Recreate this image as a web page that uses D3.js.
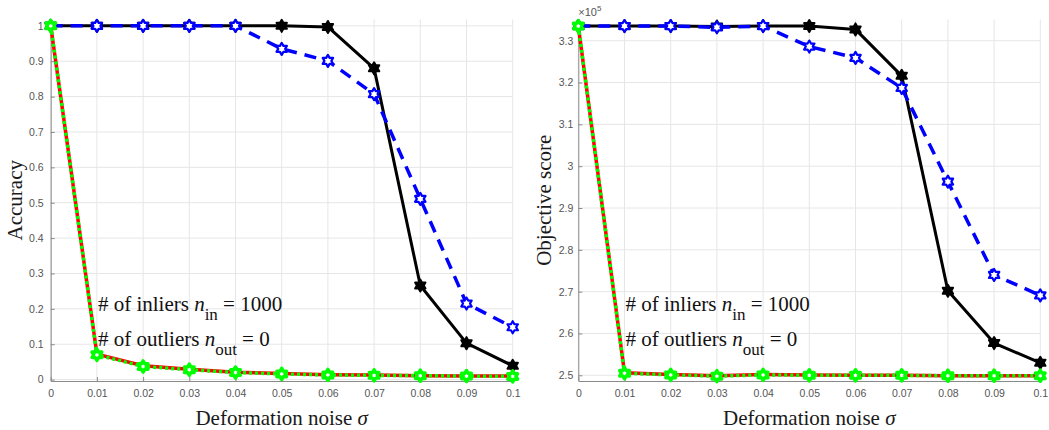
<!DOCTYPE html>
<html>
<head>
<meta charset="utf-8">
<script src="https://cdn.jsdelivr.net/npm/d3@7"></script>
<style>
  html, body { margin: 0; padding: 0; background: #fff; }
  svg { display: block; }
</style>
</head>
<body>
<svg id="chart" width="1049" height="430"></svg>
<script>
// Deformation noise levels (x axis)
const sigma = [0, 0.01, 0.02, 0.03, 0.04, 0.05, 0.06, 0.07, 0.08, 0.09, 0.1];
const xTicks = [0, 0.01, 0.02, 0.03, 0.04, 0.05, 0.06, 0.07, 0.08, 0.09, 0.1];

// Accuracy per method
const accBlack = [1, 1, 1, 1, 1, 1, 0.997, 0.880, 0.266, 0.103, 0.039];
const accBlue  = [1, 1, 1, 1, 1, 0.935, 0.901, 0.807, 0.511, 0.215, 0.148];
const accRed   = [1, 0.072, 0.039, 0.029, 0.021, 0.017, 0.014, 0.013, 0.011, 0.010, 0.010];
const accGreen = [1, 0.070, 0.037, 0.028, 0.020, 0.016, 0.013, 0.012, 0.011, 0.010, 0.009];
const accTicks = [0, 0.1, 0.2, 0.3, 0.4, 0.5, 0.6, 0.7, 0.8, 0.9, 1];

// Objective score per method (x 1e5)
const objBlack = [3.335, 3.335, 3.335, 3.334, 3.335, 3.335, 3.327, 3.216, 2.702, 2.577, 2.530];
const objBlue  = [3.335, 3.335, 3.335, 3.332, 3.335, 3.286, 3.259, 3.187, 2.963, 2.740, 2.691];
const objRed   = [3.335, 2.506, 2.502, 2.499, 2.502, 2.501, 2.500, 2.500, 2.499, 2.499, 2.499];
const objGreen = [3.335, 2.505, 2.501, 2.498, 2.501, 2.500, 2.500, 2.500, 2.499, 2.499, 2.499];
const objTicks = [2.5, 2.6, 2.7, 2.8, 2.9, 3, 3.1, 3.2, 3.3];

const svg = d3.select("#chart");
const SERIF = "Liberation Serif";
const SANS = "Liberation Sans";

// Six-pointed star outline centred on the origin
function hexagram(R) {
  const r = R / Math.sqrt(3);
  const pts = [];
  for (let i = 0; i < 12; i++) {
    const a = -Math.PI / 2 + i * Math.PI / 6;
    const rad = i % 2 === 0 ? R : r;
    pts.push([rad * Math.cos(a), rad * Math.sin(a)]);
  }
  return "M" + pts.map(p => p[0].toFixed(2) + "," + p[1].toFixed(2)).join("L") + "Z";
}

// Append a tspan carrying its own font settings
function span(t, str, size, italic) {
  const s = t.append("tspan").attr("font-family", SERIF).attr("font-size", size).text(str);
  if (italic) s.attr("font-style", "italic");
  return s;
}

function panel(opts) {
  const g = svg.append("g");
  const x = d3.scaleLinear().domain([0, 0.1]).range([opts.left, opts.right]);
  const y = d3.scaleLinear().domain(opts.yDomain).range([opts.bottom, opts.top]);

  // grid
  g.append("g").selectAll("line").data(xTicks).join("line")
    .attr("x1", d => x(d)).attr("x2", d => x(d))
    .attr("y1", opts.top).attr("y2", opts.bottom)
    .attr("stroke", "#e6e6e6").attr("stroke-width", 1);
  g.append("g").selectAll("line").data(opts.yTicks).join("line")
    .attr("x1", opts.left).attr("x2", opts.right)
    .attr("y1", d => y(d)).attr("y2", d => y(d))
    .attr("stroke", "#e6e6e6").attr("stroke-width", 1);

  // axes
  const xAxis = d3.axisBottom(x).tickValues(xTicks).tickSizeInner(-4).tickSizeOuter(0)
    .tickPadding(9).tickFormat(d => d3.format("~g")(d));
  const yAxis = d3.axisLeft(y).tickValues(opts.yTicks).tickSizeInner(-4).tickSizeOuter(0)
    .tickPadding(opts.yPad).tickFormat(d => d3.format("~g")(d));
  const gx = g.append("g").attr("transform", `translate(0,${opts.bottom})`).call(xAxis);
  const gy = g.append("g").attr("transform", `translate(${opts.left},0)`).call(yAxis);
  [gx, gy].forEach(a => {
    a.attr("font-family", SANS).attr("font-size", 10.5);
    a.select(".domain").attr("stroke", "#8a8a8a").attr("stroke-width", 1);
    a.selectAll(".tick line").attr("stroke", "#8a8a8a");
    a.selectAll(".tick text").attr("fill", "#555");
  });

  // series
  const line = vals => d3.line().x((d, i) => x(sigma[i])).y(d => y(d))(vals);
  const series = [
    { v: opts.black, color: "#000000", w: 3, dash: null, mfill: "#000000", mw: 2, r: 6 },
    { v: opts.blue,  color: "#0000ff", w: 3.5, dash: "12,8", mfill: "#ffffff", mw: 2.2, r: 6 },
    { v: opts.red,   color: "#ff0000", w: 3.5, dash: null, mfill: null, mw: 0, r: 0 },
    { v: opts.green, color: "#00ff00", w: 3.5, dash: "3,3", mfill: "#ffffff", mw: 3.4, r: 5.6 }
  ];
  series.forEach(s => {
    g.append("path").attr("d", line(s.v)).attr("fill", "none")
      .attr("stroke", s.color).attr("stroke-width", s.w)
      .attr("stroke-dasharray", s.dash)
      .attr("stroke-linejoin", "round");
    if (s.mfill) {
      g.append("g").selectAll("path").data(s.v).join("path")
        .attr("d", hexagram(s.r))
        .attr("transform", (d, i) => `translate(${x(sigma[i])},${y(d)})`)
        .attr("fill", s.mfill).attr("stroke", s.color).attr("stroke-width", s.mw)
        .attr("stroke-linejoin", "round");
    }
  });

  // y label
  const cy = (opts.top + opts.bottom) / 2;
  g.append("text").attr("font-family", SERIF)
    .attr("transform", `translate(${opts.yLabelX},${cy}) rotate(-90)`)
    .attr("text-anchor", "middle").attr("font-size", 21)
    .attr("fill", "#1a1a1a").text(opts.yLabel);

  // x label
  const xl = g.append("text").attr("font-family", SERIF)
    .attr("x", (opts.left + opts.right) / 2).attr("y", 425)
    .attr("text-anchor", "middle").attr("font-size", 21)
    .attr("fill", "#1a1a1a");
  span(xl, "Deformation noise ", 21, false);
  span(xl, "σ", 21, true);

  // annotation
  const ax = x(0.01) + 1;
  const lines = [
    { pre: "# of inliers ", sub: "in", post: " = 1000", base: 311 },
    { pre: "# of outliers ", sub: "out", post: " = 0", base: 346 }
  ];
  lines.forEach(l => {
    const t = g.append("text").attr("font-family", SERIF).attr("x", ax).attr("y", l.base)
      .attr("font-size", 21).attr("fill", "#111");
    span(t, l.pre, 21, false);
    span(t, "n", 21, true);
    span(t, l.sub, 17, false).attr("dy", 9);
    span(t, l.post, 21, false).attr("dy", -9);
  });

  if (opts.exponent) {
    const e = g.append("text").attr("font-family", SANS).attr("x", opts.left).attr("y", 16)
      .attr("font-size", 11).attr("fill", "#555");
    e.append("tspan").attr("font-family", SANS).text("×10");
    e.append("tspan").attr("font-family", SANS).attr("dy", -5).attr("font-size", 8).text("5");
  }
  return { x, y };
}

panel({
  left: 50.7, right: 512.7, top: 19.5, bottom: 381,
  yDomain: [-0.004, 1.018], yTicks: accTicks, yPad: 7,
  black: accBlack, blue: accBlue, red: accRed, green: accGreen,
  yLabel: "Accuracy", yLabelX: 22, exponent: false
});

panel({
  left: 578.3, right: 1040.3, top: 19.5, bottom: 381,
  yDomain: [2.4864, 3.3507], yTicks: objTicks, yPad: 5,
  black: objBlack, blue: objBlue, red: objRed, green: objGreen,
  yLabel: "Objective score", yLabelX: 551, exponent: true
});
</script>
</body>
</html>
